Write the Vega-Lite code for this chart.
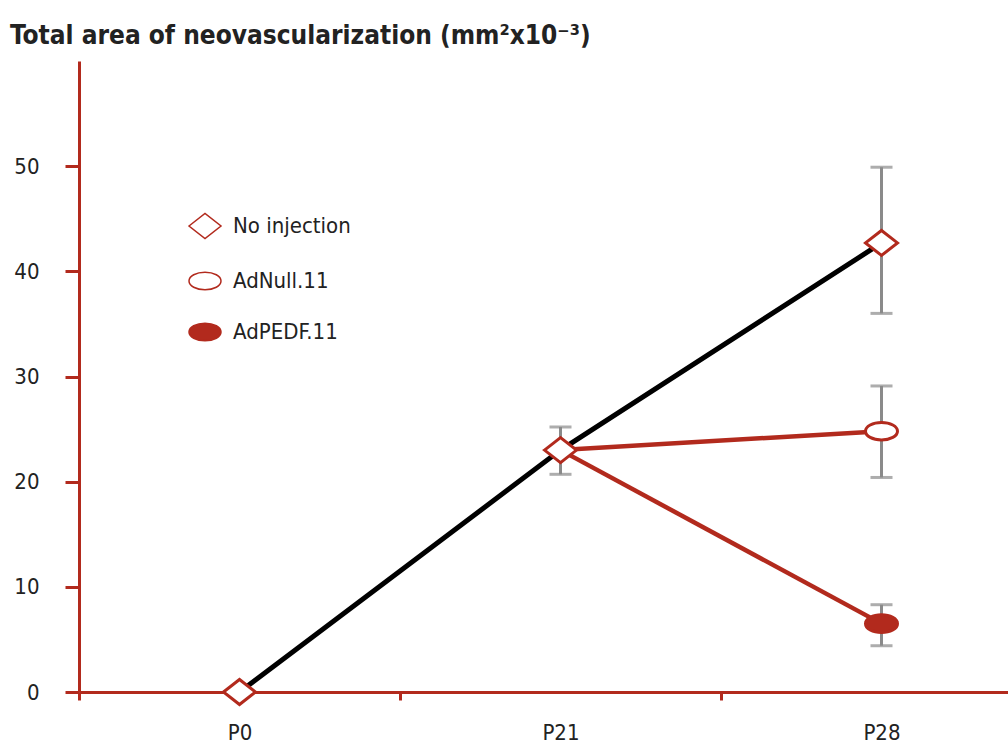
{
  "$schema": "https://vega.github.io/schema/vega-lite/v6.json",
  "autosize": {"type": "none"},
  "width": 929,
  "height": 631,
  "padding": {"left": 79, "top": 61, "right": 0, "bottom": 54},
  "background": "white",
  "config": {
    "view": {"stroke": null},
    "font": "DejaVu Sans Condensed, Roboto, sans-serif",
    "axis": {"grid": false}
  },
  "title": {
    "text": "Total area of neovascularization (mm²x10⁻³)",
    "anchor": "start",
    "frame": "group",
    "dx": -69,
    "dy": 28,
    "offset": 19,
    "baseline": "alphabetic",
    "font": "DejaVu Sans Condensed, Roboto, sans-serif",
    "fontSize": 26,
    "fontWeight": "bold",
    "color": "#222222"
  },
  "datasets": {
    "means": [
      {"series": "No injection", "time": "P0", "value": 0},
      {"series": "No injection", "time": "P21", "value": 23.0},
      {"series": "No injection", "time": "P28", "value": 42.7},
      {"series": "AdNull.11", "time": "P21", "value": 23.0},
      {"series": "AdNull.11", "time": "P28", "value": 24.8},
      {"series": "AdPEDF.11", "time": "P21", "value": 23.0},
      {"series": "AdPEDF.11", "time": "P28", "value": 6.5}
    ],
    "errors": [
      {"series": "No injection", "time": "P21", "lo": 20.7, "hi": 25.2},
      {"series": "No injection", "time": "P28", "lo": 36.0, "hi": 49.9},
      {"series": "AdNull.11", "time": "P28", "lo": 20.4, "hi": 29.1},
      {"series": "AdPEDF.11", "time": "P28", "lo": 4.4, "hi": 8.3}
    ]
  },
  "encoding": {
    "x": {
      "field": "time",
      "type": "nominal",
      "sort": ["P0", "P21", "P28"],
      "scale": {"type": "band", "domain": ["P0", "P21", "P28"], "range": [0, 963], "paddingInner": 0, "paddingOuter": 0},
      "axis": {
        "title": null,
        "labelAngle": 0,
        "labelFontSize": 22,
        "labelColor": "#222222",
        "labelPadding": 22,
        "domainColor": "#b22a1d",
        "domainWidth": 3,
        "tickColor": "#b22a1d",
        "tickWidth": 3,
        "tickSize": 8,
        "tickBand": "extent"
      }
    }
  },
  "layer": [
    {
      "data": {"name": "errors"},
      "mark": {"type": "rule", "color": "#8a8a8a", "strokeWidth": 3},
      "encoding": {
        "y": {"field": "lo", "type": "quantitative"},
        "y2": {"field": "hi"}
      }
    },
    {
      "data": {"name": "errors"},
      "mark": {"type": "tick", "color": "#8a8a8a", "orient": "horizontal", "size": 22, "thickness": 3},
      "encoding": {"y": {"field": "lo", "type": "quantitative"}}
    },
    {
      "data": {"name": "errors"},
      "mark": {"type": "tick", "color": "#8a8a8a", "orient": "horizontal", "size": 22, "thickness": 3},
      "encoding": {"y": {"field": "hi", "type": "quantitative"}}
    },
    {
      "data": {"name": "means"},
      "transform": [{"filter": "datum.series !== 'No injection'"}],
      "mark": {"type": "line", "color": "#b22a1d", "strokeWidth": 4.5},
      "encoding": {
        "y": {"field": "value", "type": "quantitative"},
        "detail": {"field": "series"}
      }
    },
    {
      "data": {"name": "means"},
      "transform": [{"filter": "datum.series === 'No injection'"}],
      "mark": {"type": "line", "color": "#000000", "strokeWidth": 5},
      "encoding": {
        "y": {"field": "value", "type": "quantitative"}
      }
    },
    {
      "data": {"name": "means"},
      "transform": [{"filter": "datum.series === 'No injection' || datum.time === 'P28'"}],
      "mark": {"type": "point", "filled": false, "stroke": "#b22a1d", "strokeWidth": 3, "opacity": 1, "size": 1024},
      "encoding": {
        "y": {
          "field": "value",
          "type": "quantitative",
          "scale": {"domain": [0, 60], "nice": false},
          "axis": {
            "title": null,
            "values": [0, 10, 20, 30, 40, 50],
            "labelFontSize": 22,
            "labelColor": "#222222",
            "labelPadding": 26,
            "domainColor": "#b22a1d",
            "domainWidth": 3,
            "tickColor": "#b22a1d",
            "tickWidth": 3,
            "tickSize": 14
          }
        },
        "shape": {
          "field": "series",
          "type": "nominal",
          "scale": {
            "domain": ["No injection", "AdNull.11", "AdPEDF.11"],
            "range": ["M-1,0L0,-0.78L1,0L0,0.78Z", "M-1,0A1,0.55,0,1,0,1,0A1,0.55,0,1,0,-1,0Z", "M-1,0A1,0.55,0,1,0,1,0A1,0.55,0,1,0,-1,0Z"]
          },
          "legend": {
            "title": null,
            "orient": "none",
            "legendX": 109,
            "legendY": 148,
            "symbolSize": 1024,
            "labelFontSize": 22,
            "labelColor": "#222222",
            "labelOffset": 11,
            "rowPadding": 22,
            "encode": {"symbols": {"update": {"stroke": {"value": "#b22a1d"}, "strokeWidth": {"value": 3}}}}
          }
        },
        "fill": {
          "field": "series",
          "type": "nominal",
          "scale": {
            "domain": ["No injection", "AdNull.11", "AdPEDF.11"],
            "range": ["#ffffff", "#ffffff", "#b22a1d"]
          },
          "legend": {
            "title": null,
            "orient": "none",
            "legendX": 109,
            "legendY": 148,
            "symbolSize": 1024,
            "labelFontSize": 22,
            "labelColor": "#222222",
            "labelOffset": 11,
            "rowPadding": 22,
            "encode": {"symbols": {"update": {"stroke": {"value": "#b22a1d"}, "strokeWidth": {"value": 3}}}}
          }
        }
      }
    }
  ]
}
